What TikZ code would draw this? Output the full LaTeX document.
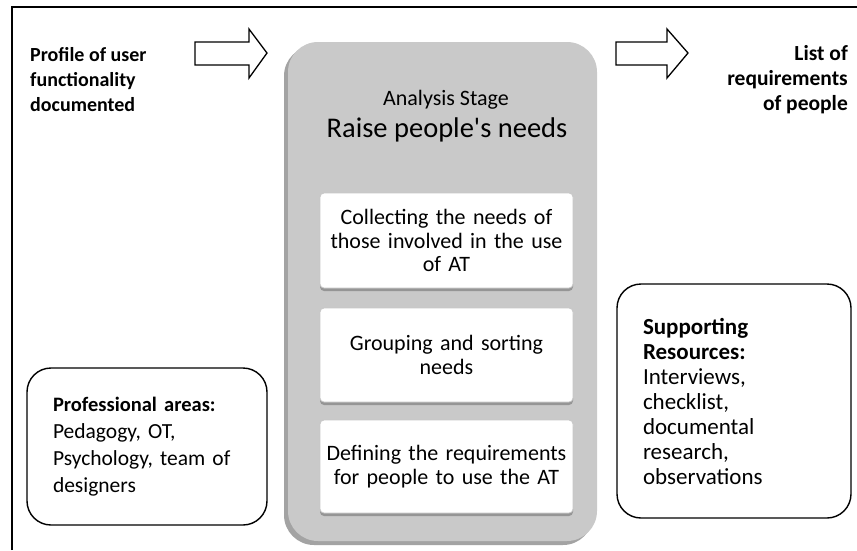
\documentclass[tikz,border=0pt]{standalone}
\usepackage{fontspec}
\setmainfont{Carlito}
\usetikzlibrary{positioning,shadows}

\begin{document}
\begin{tikzpicture}[x=1pt,y=-1pt,
  roundbox/.style={draw, line width=1.4pt, rounded corners=24pt, align=left,
    inner xsep=26pt},
  stepcard/.style={fill=white, draw=black!22, line width=.8pt, rounded corners=4pt,
    minimum width=253pt, align=center, text width=250pt, inner sep=0pt,
    font=\fontsize{22}{23.5}\selectfont,
    drop shadow={shadow xshift=0pt, shadow yshift=-3pt, fill=black!55, opacity=.6}},
  blockarrow/.style={draw, line width=1.3pt, fill=white, line join=miter}]
\useasboundingbox (0,0) rectangle (857,550);
\draw[line width=1.8pt] (12,550) -- (12,7) -- (857,7);

\node[anchor=north west, inner sep=0pt, align=left, font=\fontsize{20}{25}\selectfont\bfseries]
  (profile) at (30,47) {Profile of user\\functionality\\documented};
\node[anchor=north east, inner sep=0pt, align=right, font=\fontsize{21.5}{25}\selectfont\bfseries]
  (reqlist) at (848,45) {List of\\requirements\\of people};

\draw[blockarrow] (195,42) -- (249,42) -- (249,29) -- (267,53) -- (249,78) -- (249,65) -- (195,65) -- cycle;
\draw[blockarrow] (616,42) -- (667,42) -- (667,29) -- (688,53) -- (667,78) -- (667,65) -- (616,65) -- cycle;

\node[fill=black!21, rounded corners=30pt, minimum width=309pt, minimum height=499pt,
  drop shadow={shadow xshift=-4pt, shadow yshift=-4pt, fill=black!45, opacity=.8}]
  (stage) at (442.5,291.5) {};
\node[font=\fontsize{22}{24}\selectfont, anchor=base] (stagename) at (446,105) {Analysis Stage};
\node[font=\fontsize{28.5}{30}\selectfont, anchor=base] (stagegoal) at (447,137) {Raise people\textquotesingle s needs};

\node[stepcard, minimum height=95pt] (collect) at (446.5,240.5)
  {Collecting the needs of\\those involved in the use\\of AT};
\node[stepcard, minimum height=94pt] (group) at (446.5,355)
  {Grouping and sorting\\needs};
\node[stepcard, minimum height=93pt] (define) at (446.5,466.5)
  {Defining the requirements\\for people to use the AT};

\node[roundbox, minimum width=240pt, minimum height=157pt, text width=188pt,
  font=\fontsize{21.5}{27}\selectfont] (areas) at (147,446.5)
  {{\fontsize{20.5}{27}\selectfont\bfseries Professional areas:}\\Pedagogy, OT,\\Psychology, team of\\designers};
\node[roundbox, minimum width=234pt, minimum height=234pt, text width=182pt,
  font=\fontsize{23}{25}\selectfont] (resources) at (734,401)
  {\textbf{Supporting}\\\textbf{Resources:}\\Interviews,\\checklist,\\documental\\research,\\observations};
\end{tikzpicture}
\end{document}
